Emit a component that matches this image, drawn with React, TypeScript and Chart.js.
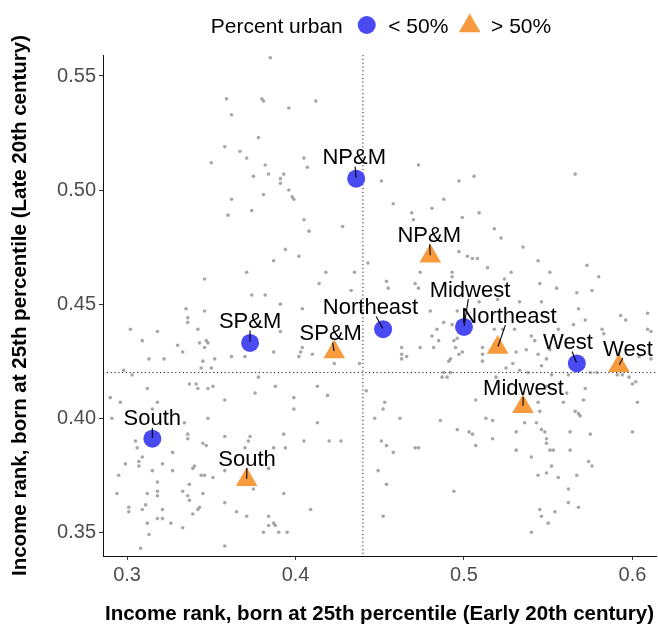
import { useEffect, useRef } from 'react';
import { Chart, registerables } from 'chart.js';

Chart.register(...registerables);

const FONT = '"Liberation Sans", Arial, Helvetica, sans-serif';

// Axis ranges and ticks
const X_MIN = 0.2857;
const X_MAX = 0.614;
const Y_MIN = 0.3396;
const Y_MAX = 0.5592;
const xTickValues = [0.3, 0.4, 0.5, 0.6];
const xTickLabels = ['0.3', '0.4', '0.5', '0.6'];
const yTickValues = [0.35, 0.4, 0.45, 0.5, 0.55];
const yTickLabels = ['0.35', '0.40', '0.45', '0.50', '0.55'];

const xTitle = 'Income rank, born at 25th percentile (Early 20th century)';
const yTitle = 'Income rank, born at 25th percentile (Late 20th century)';

// National averages (dotted reference lines)
const earlyMean = 0.44;
const lateMean = 0.42;

// Regional averages, split by share of urban population
const regions = ['NP&M', 'SP&M', 'Northeast', 'Midwest', 'West', 'South'];
const ruralEarly = [0.436, 0.373, 0.452, 0.5, 0.567, 0.315];
const ruralLate = [0.505, 0.433, 0.439, 0.44, 0.424, 0.391];
const urbanEarly = [0.48, 0.423, 0.52, 0.535, 0.592, 0.371];
const urbanLate = [0.471, 0.429, 0.431, 0.405, 0.423, 0.373];

// Label placement relative to each marker, in pixels
const ruralLabelOffsets = [[-2, -22.5], [0, -22.8], [-12.6, -23.1], [6, -38.3], [-8.9, -22.3], [0, -21.2]];
const urbanLabelOffsets = [[-1.1, -22.3], [-3.5, -19.9], [11.3, -32.8], [0.5, -20.1], [9, -18.1], [0.4, -22.1]];

const legendTitle = 'Percent urban';
const legendLabels = ['< 50%', '> 50%'];

// Individual areas: [early rank, late rank]
const areaRanks: [number, number][] = [
  [0.359, 0.540], [0.362, 0.533], [0.358, 0.519], [0.350, 0.512], [0.362, 0.496], [0.360, 0.489],
  [0.346, 0.461], [0.367, 0.517],
  [0.385, 0.558], [0.380, 0.540], [0.381, 0.539], [0.396, 0.536], [0.412, 0.539], [0.378, 0.523],
  [0.371, 0.514], [0.382, 0.511], [0.405, 0.514], [0.407, 0.510], [0.375, 0.506], [0.384, 0.507],
  [0.393, 0.507], [0.391, 0.505], [0.391, 0.503], [0.396, 0.500], [0.398, 0.497], [0.399, 0.496],
  [0.381, 0.498], [0.374, 0.491], [0.405, 0.487], [0.408, 0.482], [0.428, 0.484], [0.394, 0.474],
  [0.402, 0.471], [0.387, 0.469], [0.371, 0.464], [0.418, 0.464], [0.435, 0.464], [0.443, 0.468],
  [0.414, 0.459], [0.433, 0.456], [0.374, 0.454], [0.382, 0.454], [0.391, 0.450],
  [0.473, 0.511], [0.451, 0.504], [0.497, 0.504], [0.506, 0.506], [0.458, 0.494], [0.488, 0.496],
  [0.481, 0.492], [0.469, 0.490], [0.470, 0.487], [0.499, 0.488], [0.509, 0.490], [0.518, 0.483],
  [0.522, 0.479], [0.497, 0.473], [0.502, 0.471], [0.505, 0.470], [0.508, 0.470], [0.514, 0.466],
  [0.493, 0.464], [0.493, 0.462], [0.474, 0.464], [0.454, 0.460], [0.471, 0.459], [0.455, 0.457],
  [0.473, 0.457], [0.528, 0.464], [0.524, 0.461], [0.509, 0.451], [0.520, 0.452],
  [0.566, 0.507], [0.535, 0.475], [0.544, 0.469], [0.551, 0.464], [0.573, 0.467], [0.580, 0.462],
  [0.545, 0.459], [0.555, 0.457], [0.567, 0.455], [0.576, 0.456], [0.533, 0.451], [0.546, 0.451],
  [0.335, 0.448], [0.346, 0.447], [0.336, 0.444], [0.336, 0.442], [0.302, 0.439], [0.318, 0.438],
  [0.342, 0.439], [0.309, 0.434], [0.330, 0.432], [0.343, 0.433], [0.347, 0.434], [0.348, 0.433],
  [0.346, 0.431], [0.333, 0.429], [0.313, 0.426], [0.322, 0.426], [0.352, 0.426], [0.362, 0.427],
  [0.345, 0.425], [0.298, 0.421], [0.303, 0.419], [0.344, 0.422], [0.350, 0.422], [0.337, 0.415],
  [0.341, 0.415], [0.342, 0.413], [0.348, 0.413], [0.351, 0.414], [0.312, 0.413], [0.290, 0.409],
  [0.296, 0.407], [0.318, 0.407], [0.358, 0.408], [0.291, 0.400], [0.315, 0.404], [0.334, 0.398],
  [0.348, 0.400], [0.305, 0.390], [0.306, 0.387], [0.336, 0.393], [0.336, 0.391], [0.345, 0.389],
  [0.347, 0.388], [0.327, 0.385], [0.358, 0.392], [0.309, 0.383], [0.299, 0.380], [0.307, 0.381],
  [0.307, 0.379], [0.321, 0.380], [0.315, 0.377], [0.327, 0.377], [0.340, 0.379], [0.339, 0.378],
  [0.344, 0.375], [0.346, 0.375], [0.351, 0.374], [0.358, 0.377], [0.295, 0.375], [0.318, 0.372],
  [0.337, 0.371], [0.294, 0.367], [0.312, 0.367], [0.318, 0.368], [0.318, 0.366], [0.333, 0.368],
  [0.336, 0.366], [0.345, 0.367], [0.337, 0.364], [0.311, 0.362], [0.301, 0.361], [0.301, 0.359],
  [0.309, 0.360], [0.321, 0.360], [0.343, 0.361], [0.342, 0.360], [0.339, 0.358], [0.358, 0.363],
  [0.365, 0.359], [0.318, 0.356], [0.321, 0.356], [0.312, 0.354], [0.326, 0.354], [0.333, 0.352],
  [0.313, 0.349], [0.308, 0.343], [0.358, 0.344],
  [0.404, 0.448], [0.391, 0.438], [0.387, 0.429], [0.404, 0.431], [0.403, 0.429], [0.402, 0.427],
  [0.410, 0.428], [0.370, 0.427], [0.423, 0.424], [0.438, 0.424], [0.378, 0.418], [0.388, 0.414],
  [0.413, 0.414], [0.376, 0.411], [0.399, 0.409], [0.419, 0.410], [0.399, 0.404], [0.413, 0.398],
  [0.393, 0.393], [0.373, 0.392], [0.372, 0.390], [0.387, 0.387], [0.394, 0.387], [0.405, 0.390],
  [0.420, 0.390], [0.427, 0.390], [0.370, 0.387], [0.384, 0.378], [0.375, 0.369], [0.393, 0.367],
  [0.409, 0.360], [0.371, 0.357], [0.384, 0.357], [0.387, 0.354], [0.384, 0.353], [0.388, 0.353],
  [0.381, 0.350], [0.390, 0.350], [0.395, 0.350], [0.442, 0.412], [0.447, 0.400], [0.449, 0.377],
  [0.480, 0.447], [0.488, 0.442], [0.496, 0.447], [0.493, 0.441], [0.484, 0.439], [0.481, 0.436],
  [0.496, 0.435], [0.494, 0.434], [0.485, 0.434], [0.482, 0.431], [0.474, 0.431], [0.495, 0.431],
  [0.497, 0.428], [0.499, 0.429], [0.463, 0.431], [0.463, 0.428], [0.466, 0.427], [0.463, 0.426],
  [0.492, 0.426], [0.491, 0.425], [0.511, 0.428], [0.511, 0.431], [0.518, 0.439], [0.523, 0.439],
  [0.530, 0.439], [0.531, 0.429], [0.529, 0.424], [0.525, 0.422], [0.511, 0.425], [0.488, 0.420],
  [0.492, 0.420], [0.487, 0.418], [0.490, 0.418], [0.519, 0.418], [0.453, 0.407], [0.452, 0.404],
  [0.507, 0.408], [0.462, 0.400], [0.486, 0.399], [0.513, 0.400], [0.517, 0.399], [0.496, 0.395],
  [0.503, 0.394], [0.505, 0.393], [0.517, 0.391], [0.507, 0.388], [0.531, 0.394], [0.531, 0.386],
  [0.451, 0.390], [0.454, 0.388], [0.458, 0.385], [0.471, 0.387], [0.473, 0.387], [0.454, 0.371],
  [0.494, 0.368], [0.452, 0.357],
  [0.568, 0.448], [0.593, 0.445], [0.596, 0.443], [0.609, 0.446], [0.582, 0.439], [0.583, 0.437],
  [0.609, 0.439], [0.611, 0.438], [0.572, 0.443], [0.565, 0.441], [0.540, 0.436], [0.556, 0.439],
  [0.542, 0.434], [0.537, 0.430], [0.551, 0.430], [0.544, 0.428], [0.549, 0.426], [0.546, 0.423],
  [0.533, 0.421], [0.538, 0.420], [0.552, 0.419], [0.562, 0.419], [0.575, 0.420], [0.579, 0.420],
  [0.591, 0.419], [0.594, 0.419], [0.598, 0.418], [0.604, 0.427], [0.611, 0.426], [0.600, 0.415],
  [0.602, 0.416], [0.549, 0.414], [0.572, 0.413], [0.561, 0.411], [0.559, 0.407], [0.571, 0.408],
  [0.603, 0.407], [0.544, 0.407], [0.545, 0.403], [0.566, 0.403], [0.568, 0.402], [0.569, 0.401],
  [0.536, 0.398], [0.543, 0.398], [0.546, 0.395], [0.548, 0.394], [0.563, 0.394], [0.575, 0.393],
  [0.600, 0.394], [0.549, 0.391], [0.549, 0.389], [0.551, 0.386], [0.553, 0.386], [0.563, 0.386],
  [0.540, 0.383], [0.574, 0.381], [0.576, 0.379], [0.552, 0.379], [0.549, 0.376], [0.544, 0.375],
  [0.556, 0.374], [0.567, 0.375], [0.562, 0.369], [0.562, 0.363], [0.568, 0.361], [0.545, 0.360],
  [0.554, 0.359], [0.546, 0.357], [0.550, 0.354], [0.540, 0.350],
];

const BLUE = '#4a4af2';
const ORANGE = '#f89a3e';
const CIRCLE_R = 9;
const TRIANGLE_R = 12.5;

function drawTriangle(ctx: CanvasRenderingContext2D, cx: number, cy: number, r: number) {
  ctx.beginPath();
  ctx.moveTo(cx, cy - r);
  ctx.lineTo(cx + r * Math.sin((2 * Math.PI) / 3), cy + r / 2);
  ctx.lineTo(cx - r * Math.sin((2 * Math.PI) / 3), cy + r / 2);
  ctx.closePath();
  ctx.fill();
}

const meanLinesPlugin = {
  id: 'meanLines',
  beforeDatasetsDraw(chart: any) {
    const { ctx, chartArea, scales } = chart;
    const vx = scales.x.getPixelForValue(earlyMean);
    const hy = scales.y.getPixelForValue(lateMean);
    ctx.save();
    ctx.strokeStyle = '#222';
    ctx.lineWidth = 1;
    ctx.setLineDash([1.2, 2.6]);
    ctx.beginPath();
    ctx.moveTo(vx, chartArea.top);
    ctx.lineTo(vx, chartArea.bottom);
    ctx.moveTo(chartArea.left, hy);
    ctx.lineTo(chartArea.right, hy);
    ctx.stroke();
    ctx.restore();
  },
};

const regionLabelsPlugin = {
  id: 'regionLabels',
  afterDatasetsDraw(chart: any) {
    const { ctx, scales } = chart;
    const size = 22;
    const cap = size * 0.716;
    ctx.save();
    ctx.font = `${size}px ${FONT}`;
    ctx.textAlign = 'center';
    ctx.textBaseline = 'alphabetic';
    const groups: [number[], number[], number[][]][] = [
      [ruralEarly, ruralLate, ruralLabelOffsets],
      [urbanEarly, urbanLate, urbanLabelOffsets],
    ];
    groups.forEach(([xs, ys, offs]) => {
      regions.forEach((name, i) => {
        const px = scales.x.getPixelForValue(xs[i]);
        const py = scales.y.getPixelForValue(ys[i]);
        const lx = px + offs[i][0];
        const ly = py + offs[i][1];
        const w = ctx.measureText(name).width;
        const hw = w / 2 + 1;
        const hh = cap / 2 + 2.5;
        const dx = px - lx;
        const dy = py - ly;
        const tx = dx !== 0 ? hw / Math.abs(dx) : Infinity;
        const ty = dy !== 0 ? hh / Math.abs(dy) : Infinity;
        const t = Math.min(tx, ty);
        if (t < 1) {
          const len = Math.hypot(dx, dy);
          ctx.strokeStyle = '#000';
          ctx.lineWidth = 1.1;
          ctx.beginPath();
          ctx.moveTo(lx + dx * t, ly + dy * t);
          ctx.lineTo(px - (dx / len) * 1, py - (dy / len) * 1);
          ctx.stroke();
        }
        ctx.fillStyle = '#000';
        ctx.fillText(name, lx, ly + cap / 2);
      });
    });
    ctx.restore();
  },
};

const legendPlugin = {
  id: 'urbanLegend',
  afterDraw(chart: any) {
    const { ctx, chartArea } = chart;
    const size = 21;
    const cap = size * 0.716;
    const cy = 25;
    ctx.save();
    ctx.font = `${size}px ${FONT}`;
    ctx.textAlign = 'left';
    ctx.textBaseline = 'alphabetic';
    ctx.fillStyle = '#000';
    const tW = ctx.measureText(legendTitle).width;
    const aW = ctx.measureText(legendLabels[0]).width;
    const bW = ctx.measureText(legendLabels[1]).width;
    const triW = TRIANGLE_R * Math.sqrt(3);
    const total = tW + 15 + CIRCLE_R * 2 + 12.5 + aW + 10.5 + triW + 10.5 + bW;
    let x = (chartArea.left + chartArea.right) / 2 + 1.5 - total / 2;
    ctx.fillText(legendTitle, x, cy + cap / 2);
    x += tW + 15;
    ctx.fillStyle = BLUE;
    ctx.beginPath();
    ctx.arc(x + CIRCLE_R, cy, CIRCLE_R, 0, Math.PI * 2);
    ctx.fill();
    x += CIRCLE_R * 2 + 12.5;
    ctx.fillStyle = '#000';
    ctx.fillText(legendLabels[0], x, cy + cap / 2);
    x += aW + 10.5;
    ctx.fillStyle = ORANGE;
    drawTriangle(ctx, x + triW / 2, cy + 1, TRIANGLE_R);
    x += triW + 10.5;
    ctx.fillStyle = '#000';
    ctx.fillText(legendLabels[1], x, cy + cap / 2);
    ctx.restore();
  },
};

export default function App() {
  const canvasRef = useRef<HTMLCanvasElement>(null);

  useEffect(() => {
    document.body.style.margin = '0';
    document.body.style.overflow = 'hidden';
    const canvas = canvasRef.current;
    if (!canvas) return;

    const tickFont = { family: FONT, size: 20 };
    const titleFont = { family: FONT, size: 20.5, weight: 'bold' as const, lineHeight: 1 };

    const chart = new Chart(canvas, {
      type: 'scatter',
      data: {
        datasets: [
          {
            label: 'Rural',
            data: regions.map((_, i) => ({ x: ruralEarly[i], y: ruralLate[i] })),
            pointStyle: 'circle',
            pointRadius: CIRCLE_R,
            backgroundColor: BLUE,
            borderWidth: 0,
            order: 1,
          },
          {
            label: 'Urban',
            data: regions.map((_, i) => ({ x: urbanEarly[i], y: urbanLate[i] })),
            pointStyle: 'triangle',
            pointRadius: TRIANGLE_R,
            backgroundColor: ORANGE,
            borderWidth: 0,
            order: 0,
          },
          {
            label: 'Areas',
            data: areaRanks.map(([x, y]) => ({ x, y })),
            pointRadius: 1.8,
            backgroundColor: 'rgba(130,130,130,0.7)',
            borderWidth: 0,
            order: 5,
          },
        ],
      },
      options: {
        responsive: false,
        animation: false,
        events: [],
        devicePixelRatio: 1,
        layout: { autoPadding: false, padding: { top: 55, right: 2, bottom: 0, left: 0 } },
        plugins: {
          legend: { display: false },
          tooltip: { enabled: false },
        },
        scales: {
          x: {
            type: 'linear',
            min: X_MIN,
            max: X_MAX,
            afterBuildTicks: (scale: any) => {
              scale.ticks = xTickValues.map((value) => ({ value }));
            },
            afterFit: (scale: any) => {
              scale.height = 69;
              scale.paddingLeft = 0;
              scale.paddingRight = 0;
            },
            ticks: {
              callback: (_v: any, i: number) => xTickLabels[i] ?? '',
              font: tickFont,
              color: '#4d4d4d',
              padding: 3,
              maxRotation: 0,
              autoSkip: false,
            },
            grid: { drawOnChartArea: false, drawTicks: true, tickLength: 4, color: '#333', lineWidth: 1 },
            border: { display: true, color: '#111', width: 1 },
            title: { display: true, text: xTitle, font: titleFont, color: '#000', padding: { top: 0, bottom: 0 } },
          },
          y: {
            type: 'linear',
            min: Y_MIN,
            max: Y_MAX,
            afterBuildTicks: (scale: any) => {
              scale.ticks = yTickValues.map((value) => ({ value }));
            },
            afterFit: (scale: any) => {
              scale.width = 103;
              scale.paddingTop = 0;
              scale.paddingBottom = 0;
            },
            ticks: {
              callback: (_v: any, i: number) => yTickLabels[i] ?? '',
              font: tickFont,
              color: '#4d4d4d',
              padding: 3,
              autoSkip: false,
            },
            grid: { drawOnChartArea: false, drawTicks: true, tickLength: 4, color: '#333', lineWidth: 1 },
            border: { display: true, color: '#111', width: 1 },
            title: { display: true, text: yTitle, font: titleFont, color: '#000', padding: { top: 10, bottom: 0 } },
          },
        },
      },
      plugins: [meanLinesPlugin, regionLabelsPlugin, legendPlugin],
    });

    return () => chart.destroy();
  }, []);

  return (
    <div style={{ position: 'absolute', left: 0, top: 0, width: 658, height: 625, background: '#fff' }}>
      <canvas ref={canvasRef} width={658} height={625} style={{ width: 658, height: 625, display: 'block' }} />
    </div>
  );
}
